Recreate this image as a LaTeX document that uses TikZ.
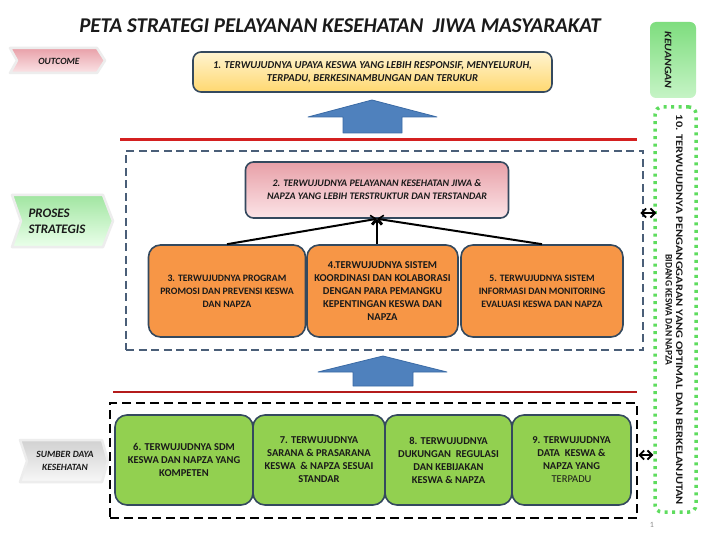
\documentclass[tikz,border=0pt]{standalone}
\usepackage{fontspec}
\setmainfont{Carlito}
\usetikzlibrary{arrows.meta,calc}
\definecolor{bordc}{HTML}{34495E}
\definecolor{orgc}{HTML}{F79646}
\definecolor{grnc}{HTML}{92D050}
\definecolor{yeltop}{HTML}{FFF4D0}
\definecolor{yelbot}{HTML}{FFD870}
\definecolor{pinktop}{HTML}{E8A0A8}
\definecolor{pinkbot}{HTML}{FBE4E7}
\definecolor{arrowblue}{HTML}{4F81BD}
\definecolor{arrowedge}{HTML}{3A6AA5}
\definecolor{redline}{HTML}{D42020}
\definecolor{dashblue}{HTML}{4A5E78}
\definecolor{dotgreen}{HTML}{5EDC5E}
\definecolor{kgtop}{HTML}{7EDD7E}
\definecolor{kgbot}{HTML}{C6F4C6}
\definecolor{txtc}{HTML}{1A1A1A}
\begin{document}
\begin{tikzpicture}[x=1pt,y=-1pt,
  box/.style={draw=bordc, line width=1.6pt, rounded corners=12pt, align=center,
    inner sep=2pt, text=txtc, font=\fontsize{10.5}{13}\selectfont\bfseries},
  obox/.style={box, fill=orgc},
  gbox/.style={box, fill=grnc},
  smallfont/.style={font=\fontsize{9.8}{13}\selectfont\bfseries},
  topbox/.style={box, rounded corners=8pt, font=\fontsize{10.6}{13.5}\selectfont\bfseries\itshape},
  conn/.style={line width=2pt, -{Straight Barb[length=5pt,width=9pt,line width=1.6pt]}},
  dbl/.style={line width=1.8pt, {Straight Barb[length=4.5pt,width=9pt]}-{Straight Barb[length=4.5pt,width=9pt]}},
  bigarrow/.style={fill=arrowblue, draw=arrowedge, line width=0.8pt, line join=round},
  chev/.style={draw=black!7, line width=2.5pt, line join=round},
  lab/.style={font=\fontsize{9.5}{13}\selectfont\bfseries\itshape, text=txtc, align=center}
]
\useasboundingbox (0,0) rectangle (720,540);
\fill[white] (0,0) rectangle (720,540);

% title
\node[font=\fontsize{21}{24}\selectfont\bfseries\itshape, text=txtc] (title) at (340,26)
  {PETA STRATEGI PELAYANAN KESEHATAN\ \ JIWA MASYARAKAT};

% chevrons
\shade[chev, top color=pinktop, bottom color=pinkbot]
  (10,48) -- (97,48) -- (105,60.5) -- (97,73) -- (10,73) -- (17,60.5) -- cycle;
\node[lab] (outcome) at (59,61) {OUTCOME};

\shade[chev, top color=green!30!white!90!black, bottom color=green!8]
  (12,195) -- (103,195) -- (113,221) -- (103,247) -- (12,247) -- (21,221) -- cycle;
\node[font=\fontsize{13}{16}\selectfont\bfseries\itshape, text=txtc, align=left, anchor=west] (proses) at (25,221) {PROSES\\STRATEGIS};

\shade[chev, top color=black!18, bottom color=black!3]
  (20,440) -- (102,440) -- (108,461) -- (102,482) -- (20,482) -- (27,461) -- cycle;
\node[lab] (sumber) at (65,461) {SUMBER DAYA\\KESEHATAN};

% outcome box
\node[topbox, top color=yeltop, bottom color=yelbot, minimum width=359pt, minimum height=40pt] (b1) at (372.5,72)
  {1. TERWUJUDNYA UPAYA KESWA YANG LEBIH RESPONSIF, MENYELURUH,\\TERPADU, BERKESINAMBUNGAN DAN TERUKUR};

% big arrows
\draw[bigarrow] (372,100) -- (437,117) -- (402,117) -- (402,133) -- (343,133) -- (343,117) -- (308,117) -- cycle;
\draw[bigarrow] (383,356) -- (447,372) -- (413,372) -- (413,386) -- (353,386) -- (353,372) -- (318,372) -- cycle;

% red lines
\draw[redline, line width=3pt] (120,140) -- (637,140);
\draw[redline!85!black, line width=2.5pt] (113,392) -- (637,392);

% process frame
\node[draw=dashblue, line width=2.6pt, dash pattern=on 8pt off 4.5pt, minimum width=517pt, minimum height=199pt, inner sep=0pt] (proc) at (384.5,250.5) {};

\node[topbox, font=\fontsize{10}{13}\selectfont\bfseries\itshape, top color=pinktop, bottom color=pinkbot, minimum width=263pt, minimum height=56pt] (b2) at (377,190)
  {2. TERWUJUDNYA PELAYANAN KESEHATAN JIWA \&\\NAPZA YANG LEBIH TERSTRUKTUR DAN TERSTANDAR};

\node[obox, smallfont, minimum width=157pt, minimum height=92pt] (b3) at (227,291)
  {3. TERWUJUDNYA PROGRAM\\PROMOSI DAN PREVENSI KESWA\\DAN NAPZA};
\node[obox, minimum width=151pt, minimum height=92pt] (b4) at (382.5,291)
  {4.TERWUJUDNYA SISTEM\\KOORDINASI DAN KOLABORASI\\DENGAN PARA PEMANGKU\\KEPENTINGAN KESWA DAN\\NAPZA};
\node[obox, smallfont, minimum width=162pt, minimum height=92pt] (b5) at (542,291)
  {5. TERWUJUDNYA SISTEM\\INFORMASI DAN MONITORING\\EVALUASI KESWA DAN NAPZA};

\draw[conn] (b3.north) -- (b2.south);
\draw[conn] (b4.north -| b2.south) -- (b2.south);
\draw[conn] (b5.north) -- (b2.south);

% resources frame
\node[draw=black, line width=2.8pt, dash pattern=on 9pt off 5pt, minimum width=527pt, minimum height=115pt, inner sep=0pt] (res) at (373.5,460.5) {};

\node[gbox, minimum width=138pt, minimum height=90pt] (b6) at (184,460)
  {6. TERWUJUDNYA SDM\\KESWA DAN NAPZA YANG\\KOMPETEN};
\node[gbox, minimum width=132pt, minimum height=90pt] (b7) at (319,460)
  {7. TERWUJUDNYA\\SARANA \& PRASARANA\\KESWA\ \ \& NAPZA SESUAI\\STANDAR};
\node[gbox, minimum width=127pt, minimum height=90pt] (b8) at (448.5,460)
  {8. TERWUJUDNYA\\DUKUNGAN\ \ REGULASI\\DAN KEBIJAKAN\\KESWA \& NAPZA};
\node[gbox, minimum width=119pt, minimum height=90pt] (b9) at (571.5,460)
  {9. TERWUJUDNYA\\DATA\ \ KESWA \&\\NAPZA YANG\\{\mdseries TERPADU}};

% finance
\node[draw=none, top color=kgtop, bottom color=kgbot, rounded corners=6pt, minimum width=46pt, minimum height=76pt] (keu) at (673,60) {};
\node[rotate=-90, font=\fontsize{10}{11}\selectfont\bfseries\itshape, text=txtc] (keut) at (668,60) {\scalebox{1.18}[1]{KEUANGAN}};

\node[draw=dotgreen, line width=3.5pt, dash pattern=on 3pt off 4.5pt, rounded corners=7pt, minimum width=41pt, minimum height=405pt, inner sep=0pt] (fin) at (675.5,309.5) {};
\node[rotate=-90, font=\fontsize{10}{10.5}\selectfont\bfseries, text=txtc, align=center] (fint) at (674,310)
  {\scalebox{1.24}[1]{10. TERWUJUDNYA PENGANGGARAN YANG OPTIMAL DAN BERKELANJUTAN}\\\scalebox{0.95}[1]{BIDANG KESWA DAN NAPZA}};

\coordinate (da1) at (0,213);
\coordinate (da2) at (0,455);
\draw[dbl] ([xshift=-4pt]proc.east |- da1) -- ([xshift=3pt]fin.west |- da1);
\draw[dbl] (res.east |- da2) -- (fin.west |- da2);

\node[font=\fontsize{8}{9}\selectfont, text=black!45] (pg) at (652,525) {1};
\end{tikzpicture}
\end{document}
